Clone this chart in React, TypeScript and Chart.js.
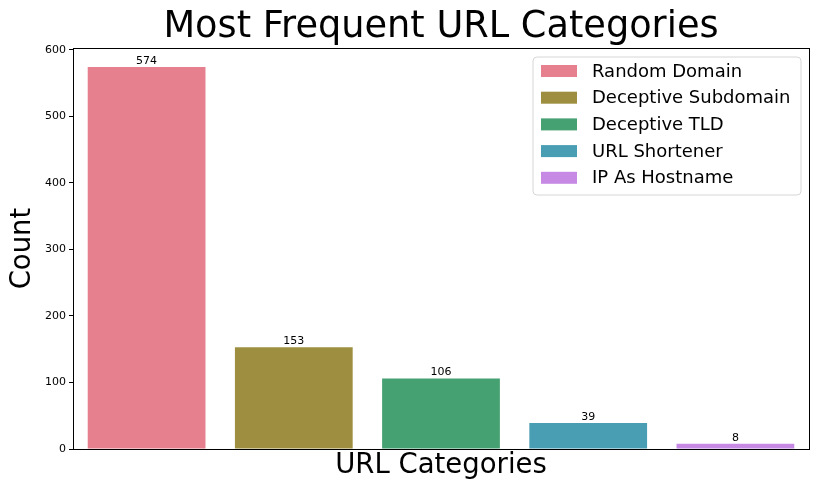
import React, { useEffect, useRef } from "react";
import { Chart, registerables } from "chart.js";

Chart.register(...registerables);

const categories = ["Random Domain", "Deceptive Subdomain", "Deceptive TLD", "URL Shortener", "IP As Hostname"];
const counts = [574, 153, 106, 39, 8];
const colors = ["#e6808f", "#9e8f40", "#45a072", "#4a9eb3", "#c68ae5"];
const yTicks = [0, 100, 200, 300, 400, 500, 600];
const titleText = "Most Frequent URL Categories";
const xTitle = "URL Categories";
const yTitle = "Count";

const FONT = "'DejaVu Sans', sans-serif";

const decorPlugin = {
  id: "decor",
  afterDatasetsDraw(chart: any) {
    const { ctx, chartArea } = chart;
    const { left, right, top, bottom } = chartArea;
    ctx.save();
    // frame
    ctx.strokeStyle = "#000";
    ctx.lineWidth = 1;
    ctx.strokeRect(Math.round(left) + 0.5, Math.round(top) + 0.5, Math.round(right - left), Math.round(bottom - top));
    // bar labels
    const meta = chart.getDatasetMeta(0);
    ctx.fillStyle = "#000";
    ctx.font = `11px ${FONT}`;
    ctx.textAlign = "center";
    ctx.textBaseline = "alphabetic";
    meta.data.forEach((el: any, i: number) => {
      ctx.fillText(String(counts[i]), el.x, el.y - 3);
    });
    // title
    const cx = (left + right) / 2;
    ctx.font = `36.7px ${FONT}`;
    ctx.textBaseline = "middle";
    ctx.fillText(titleText, cx, 27);
    // x title
    ctx.font = `27.5px ${FONT}`;
    ctx.fillText(xTitle, cx, 466);
    // y title
    ctx.save();
    ctx.translate(23, (top + bottom) / 2);
    ctx.rotate(-Math.PI / 2);
    ctx.fillText(yTitle, 0, 0);
    ctx.restore();
    // legend
    const lx = 533, ly = 57, lw = 268, lh = 138, r = 4;
    ctx.beginPath();
    ctx.moveTo(lx + r, ly);
    ctx.arcTo(lx + lw, ly, lx + lw, ly + lh, r);
    ctx.arcTo(lx + lw, ly + lh, lx, ly + lh, r);
    ctx.arcTo(lx, ly + lh, lx, ly, r);
    ctx.arcTo(lx, ly, lx + lw, ly, r);
    ctx.closePath();
    ctx.fillStyle = "rgba(255,255,255,0.8)";
    ctx.fill();
    ctx.strokeStyle = "#d6d6d6";
    ctx.lineWidth = 1;
    ctx.stroke();
    ctx.font = `18px ${FONT}`;
    ctx.textAlign = "left";
    ctx.textBaseline = "middle";
    categories.forEach((c, i) => {
      const y = 71 + i * 26.7;
      ctx.fillStyle = colors[i];
      ctx.fillRect(541, y - 6, 36, 12);
      ctx.fillStyle = "#000";
      ctx.fillText(c, 592, y + 1);
    });
    ctx.restore();
  },
};

export default function App() {
  const ref = useRef<HTMLCanvasElement>(null);
  useEffect(() => {
    document.body.style.margin = "0";
    const chart = new Chart(ref.current!, {
      type: "bar",
      data: {
        labels: categories,
        datasets: [
          {
            label: yTitle,
            data: counts,
            backgroundColor: colors,
            borderWidth: 0,
            categoryPercentage: 1,
            barPercentage: 0.8,
          },
        ],
      },
      options: {
        animation: false,
        responsive: false,
        maintainAspectRatio: false,
        layout: { padding: { left: 0, top: 48, right: 13, bottom: 0 } },
        plugins: { legend: { display: false }, title: { display: false }, tooltip: { enabled: false } },
        scales: {
          x: {
            offset: true,
            ticks: { display: false },
            grid: { display: false },
            border: { display: false },
            afterFit: (s: any) => {
              s.height = 44;
            },
          },
          y: {
            min: 0,
            max: 602.7,
            afterBuildTicks: (s: any) => {
              s.ticks = yTicks.map((v) => ({ value: v }));
            },
            ticks: { color: "#000", font: { family: FONT, size: 11 }, padding: 3 },
            grid: { drawOnChartArea: false, drawTicks: true, tickLength: 4, color: "#000" },
            border: { display: false },
            afterFit: (s: any) => {
              s.width = 73;
            },
          },
        },
      },
      plugins: [decorPlugin],
    });
    return () => chart.destroy();
  }, []);
  return <canvas ref={ref} width={822} height={493} style={{ display: "block" }} />;
}
